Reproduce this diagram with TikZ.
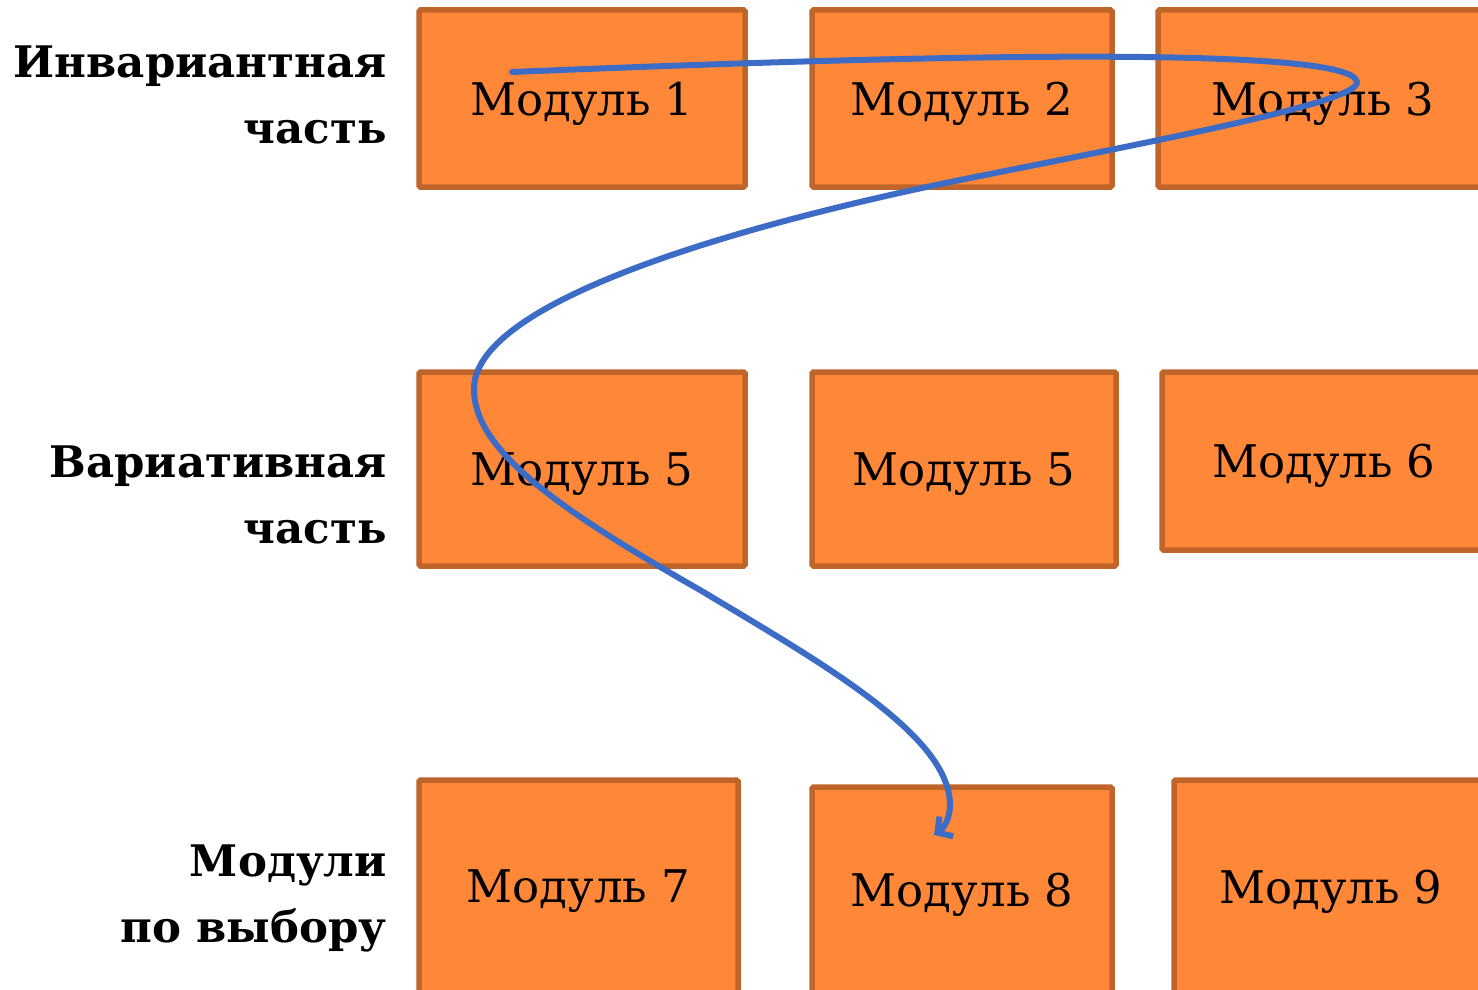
\documentclass[tikz,border=0pt]{standalone}
\usepackage{fontspec}
\setmainfont{DejaVu Serif}
\usetikzlibrary{arrows.meta}
\definecolor{modfill}{HTML}{FF8838}
\definecolor{modline}{HTML}{C0652A}
\definecolor{pathblue}{HTML}{3D6CC6}
\tikzset{
    modbox/.style={draw=modline, fill=modfill, line width=5.5pt, rounded corners=1.5pt,
        inner sep=0pt, text depth=0pt, font=\fontsize{45}{52}\selectfont},
    partlabel/.style={align=right, anchor=base east, inner sep=0pt,
        font=\fontsize{43.5}{66}\selectfont\bfseries}
}
\begin{document}
\begin{tikzpicture}[x=1pt,y=-1pt]
        \useasboundingbox (0,0) rectangle (1478,990);
        \begin{scope}
        \clip (0,0) rectangle (1478,990);
        \node[modbox, minimum width=326pt, minimum height=177pt] (m1) at (582,98.5) {Модуль 1};
        \node[modbox, minimum width=300pt, minimum height=177pt] (m2) at (962,98.5) {Модуль 2};
        \node[modbox, minimum width=330pt, minimum height=177pt] (m3) at (1323,98.5) {Модуль 3};
        \node[modbox, minimum width=326pt, minimum height=194pt] (m4) at (582,469) {Модуль 5};
        \node[modbox, minimum width=304pt, minimum height=194pt] (m5) at (964,469) {Модуль 5};
        \node[modbox, minimum width=324pt, minimum height=178pt] (m6) at (1324,461) {Модуль 6};
        \node[modbox, minimum width=319pt, minimum height=213pt] (m7) at (578.5,886.5) {Модуль 7};
        \node[modbox, minimum width=300pt, minimum height=206pt] (m8) at (962,890) {Модуль 8};
        \node[modbox, minimum width=314pt, minimum height=213pt] (m9) at (1331,886.5) {Модуль 9};
        \end{scope}
        % labels of the rows
        \node[partlabel] (inv) at (387,143) {Инвариантная\\часть};
        \node[partlabel] (var) at (387,543) {Вариативная\\часть};
        \node[partlabel] (opt) at (387,942) {Модули\\по выбору};
        % route through the modules
        \coordinate (start) at ([xshift=-70pt,yshift=26.5pt]m1.center);
        \coordinate (finish) at ([xshift=-28pt,yshift=55pt]m8.center);
        \draw[pathblue, line width=6pt, line cap=round, -{Straight Barb[length=11pt,width=24pt]}]
            (start) .. controls (850,58) and (1352,42) .. (1357,82)
            .. controls (1360,102) and (1160,140) .. (960,180)
            .. controls (740,225) and (478,300) .. (474,387)
            .. controls (472,450) and (560,510) .. (700,590)
            .. controls (820,662) and (950,735) .. (950,805)
            .. controls (950,818) and (944,828) .. (finish);
    \end{tikzpicture}
\end{document}
